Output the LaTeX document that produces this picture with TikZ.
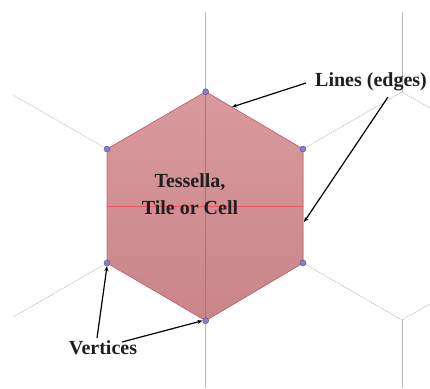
\documentclass[tikz,border=0pt]{standalone}
\usepackage{fontspec}
\newfontfamily\lblfont{Liberation Serif}
\definecolor{hexfill}{RGB}{212,140,144}
\definecolor{hexedge}{RGB}{190,110,115}
\definecolor{crossc}{RGB}{238,85,95}
\definecolor{gridc}{RGB}{185,185,185}
\definecolor{dotc}{RGB}{115,105,190}
\usetikzlibrary{arrows.meta}
\tikzset{
  grid/.style={draw=gridc, line width=0.6pt},
  gridd/.style={draw=gridc, line width=0.6pt, dash pattern=on 1.5pt off 0.8pt},
  vdot/.style={circle, fill=dotc!85!white, draw=dotc!70!black, line width=0.4pt, minimum size=6pt, inner sep=0pt},
  lbl/.style={font=\lblfont\bfseries\fontsize{20}{27}\selectfont, text=black!88, align=center, inner sep=0pt},
  arr/.style={draw=black, line width=1.2pt, -{Stealth[length=5pt,width=4pt]}},
}
\begin{document}
\begin{tikzpicture}[x=1pt,y=-1pt]
\useasboundingbox (0,0) rectangle (430,388);
% vertices of the central hexagon
\coordinate (T) at (205.7,91.7);
\coordinate (UL) at (107,149);
\coordinate (UR) at (303,149);
\coordinate (LL) at (107,263);
\coordinate (LR) at (303,263);
\coordinate (B) at (205.7,320.7);
% neighbouring grid
\coordinate (Ttop) at (205.7,12);
\coordinate (Bbot) at (205.7,388);
\coordinate (RT) at (402,92);
\coordinate (RTtop) at (402,12);
\coordinate (RTr) at (430,108);
\coordinate (RB) at (402,320);
\coordinate (RBbot) at (402,388);
\coordinate (RBr) at (430,304);
\coordinate (ULe) at (13,95);
\coordinate (LLe) at (13,317);
\draw[grid] (Ttop) -- (T);
\draw[grid] (B) -- (Bbot);
\draw[grid] (RTtop) -- (RT);
\draw[grid] (RB) -- (RBbot);
\draw[gridd] (UR) -- (RT) -- (RTr);
\draw[gridd] (LR) -- (RB) -- (RBr);
\draw[gridd] (UL) -- (ULe);
\draw[gridd] (LL) -- (LLe);
% hexagon
\fill[top color=hexfill!88!white, bottom color=hexfill!95!black] (T) -- (UR) -- (LR) -- (B) -- (LL) -- (UL) -- cycle;
\draw[crossc, line width=0.6pt] (T) -- (B);
\draw[crossc, line width=0.6pt] (UL) ++(0,57) coordinate (ML) -- (UR |- ML);
\draw[hexedge, line width=0.7pt] (T) -- (UR) -- (LR) -- (B) -- (LL) -- (UL) -- cycle;
% dots
\foreach \p in {T,UL,UR,LL,LR,B} \node[vdot] (d\p) at (\p) {};
% labels
\node[lbl] (cell) at (190,194.5) {Tessella,\\Tile or Cell};
\node[lbl] (lines) at (371,82) {Lines (edges)};
\node[lbl] (vert) at (103,348) {Vertices};
% arrow targets
\coordinate (e1) at (232,107);
\coordinate (e2) at (304,222);
\draw[arr] (lines.west) ++(-9,1) -- (e1);
\draw[arr] (388,97) -- (e2);
\draw[arr] (97,338) -- (dLL.south);
\draw[arr] (122,342) -- (dB.west);
\end{tikzpicture}
\end{document}
